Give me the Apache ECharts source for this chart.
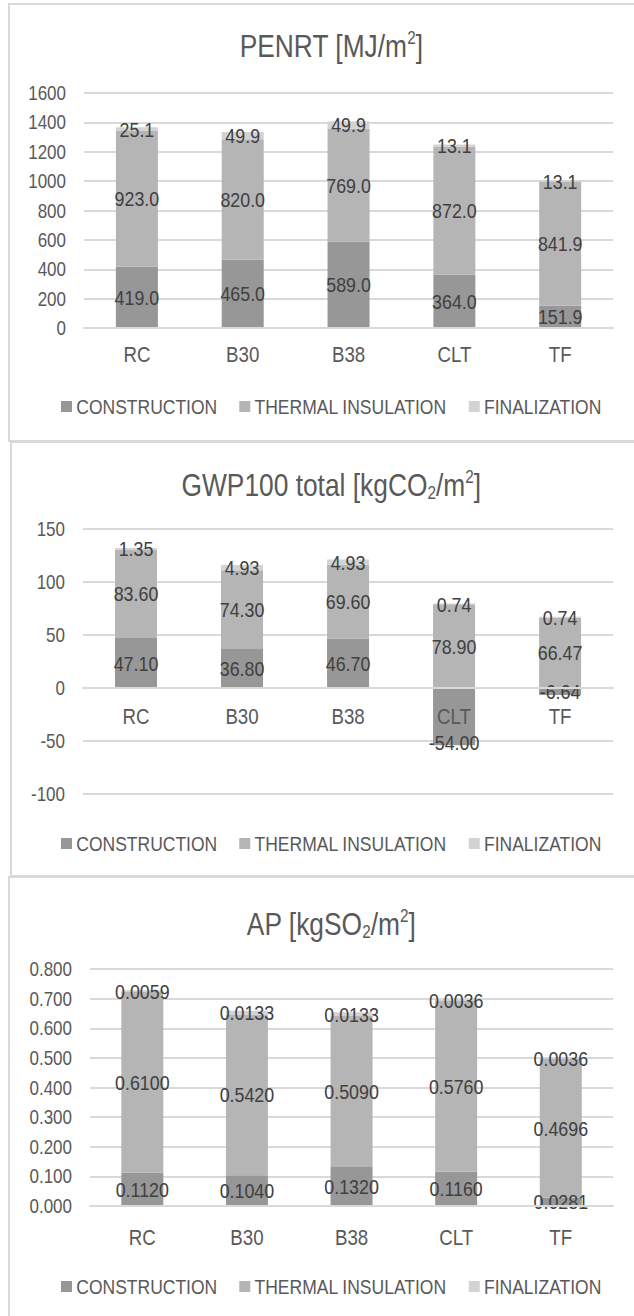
<!DOCTYPE html>
<html>
<head>
<meta charset="UTF-8">
<title>PENRT / GWP100 / AP</title>
<script src="https://cdn.jsdelivr.net/npm/echarts@6/dist/echarts.min.js"></script>
<style>
    body { margin: 0; background: #fff; width: 634px; height: 1316px; overflow: hidden; position: relative; }
    .frame { position: absolute; border: 2px solid #d9d9d9; box-sizing: border-box; }
    /* the original uses a narrow font: draw wide, then squeeze horizontally */
    .chart { position: absolute; left: 0; width: 746px; transform: scaleX(0.85); transform-origin: 0 0; }
</style>
</head>
<body>
<div class="frame" style="left:8px;top:3px;width:640px;height:439px"></div>
<div class="frame" style="left:10px;top:441px;width:640px;height:436px"></div>
<div class="frame" style="left:8px;top:876px;width:640px;height:460px"></div>
<div class="chart" id="c1" style="top:0;height:441px"></div>
<div class="chart" id="c2" style="top:441px;height:437px"></div>
<div class="chart" id="c3" style="top:878px;height:438px"></div>

<script>
    const categories = ["RC", "B30", "B38", "CLT", "TF"];
    const seriesNames = ["CONSTRUCTION", "THERMAL INSULATION", "FINALIZATION"];

    // PENRT [MJ/m2]
    const penrtConstruction = [419.0, 465.0, 589.0, 364.0, 151.9];
    const penrtInsulation = [923.0, 820.0, 769.0, 872.0, 841.9];
    const penrtFinalization = [25.1, 49.9, 49.9, 13.1, 13.1];

    // GWP100 total [kgCO2/m2]
    const gwpConstruction = [47.10, 36.80, 46.70, -54.00, -6.64];
    const gwpInsulation = [83.60, 74.30, 69.60, 78.90, 66.47];
    const gwpFinalization = [1.35, 4.93, 4.93, 0.74, 0.74];

    // AP [kgSO2/m2]
    const apConstruction = [0.1120, 0.1040, 0.1320, 0.1160, 0.0281];
    const apInsulation = [0.6100, 0.5420, 0.5090, 0.5760, 0.4696];
    const apFinalization = [0.0059, 0.0133, 0.0133, 0.0036, 0.0036];

    const FONT = "'Liberation Sans', Arial, sans-serif";
    const COLORS = ["#979797", "#b5b5b5", "#d3d3d3"];
    const TEXT = "#595959";
    const SX = 0.85; // horizontal squeeze of the chart boxes
    const px = v => v / SX; // page x size -> chart box x size

    function barSeries(name, data, color, digits) {
        return {
            name: name,
            type: "bar",
            stack: "total",
            barWidth: px(42),
            data: data,
            itemStyle: { color: color },
            label: {
                show: true,
                position: "inside",
                color: "#404040",
                fontFamily: FONT,
                fontSize: 21,
                textBorderWidth: 0,
                formatter: p => Number(p.value).toFixed(digits)
            }
        };
    }

    function makeChart(id, cfg) {
        const chart = echarts.init(document.getElementById(id), null, { renderer: "svg" });
        // category axis sits on the zero line (as in Excel)
        const zeroOffset = -cfg.gridHeight * (0 - cfg.min) / (cfg.max - cfg.min);
        chart.setOption({
            animation: false,
            textStyle: { fontFamily: FONT },
            title: {
                text: cfg.title,
                left: px(327),
                textAlign: "center",
                top: cfg.titleTop,
                textStyle: {
                    fontFamily: FONT, fontSize: 31, fontWeight: "normal", color: TEXT,
                    lineHeight: 34,
                    rich: {
                        sup: { fontFamily: FONT, fontSize: 18, color: TEXT, verticalAlign: "top", lineHeight: 20 },
                        sub: { fontFamily: FONT, fontSize: 18, color: TEXT, verticalAlign: "bottom", lineHeight: 18 }
                    }
                }
            },
            legend: {
                data: seriesNames,
                left: px(61),
                top: cfg.legendTop + 5,
                padding: 0,
                itemWidth: px(11),
                itemHeight: 11,
                itemGap: px(22),
                icon: "rect",
                textStyle: { fontFamily: FONT, fontSize: 20.6, color: TEXT }
            },
            grid: { left: px(cfg.gridLeft), right: px(21), top: cfg.gridTop, height: cfg.gridHeight, containLabel: false },
            xAxis: {
                type: "category",
                data: categories,
                z: 5,
                offset: zeroOffset,
                axisLine: { show: true, onZero: false, lineStyle: { color: "#d9d9d9", width: 2 } },
                axisTick: { show: false },
                axisLabel: { fontFamily: FONT, fontSize: 22, color: TEXT, margin: cfg.catMargin }
            },
            yAxis: {
                type: "value",
                min: cfg.min,
                max: cfg.max,
                interval: cfg.interval,
                axisLine: { show: false },
                axisTick: { show: false },
                splitLine: { lineStyle: { color: "#d9d9d9", width: 2 } },
                axisLabel: {
                    fontFamily: FONT, fontSize: 20, color: TEXT, margin: px(18),
                    formatter: v => v.toFixed(cfg.axisDigits)
                }
            },
            series: cfg.series
        });
    }

    makeChart("c1", {
        title: "PENRT [MJ/m{sup|2}]",
        titleTop: 24,
        legendTop: 391,
        gridLeft: 84, gridTop: 93, gridHeight: 235,
        catMargin: 15,
        min: 0, max: 1600, interval: 200, axisDigits: 0,
        series: [
            barSeries(seriesNames[0], penrtConstruction, COLORS[0], 1),
            barSeries(seriesNames[1], penrtInsulation, COLORS[1], 1),
            barSeries(seriesNames[2], penrtFinalization, COLORS[2], 1)
        ]
    });

    // the CLT construction label sits at the bar's lower end in the original
    const gwpConstructionData = gwpConstruction.map((v, i) =>
        categories[i] === "CLT" ? { value: v, label: { offset: [0, 26] } } : v);

    makeChart("c2", {
        title: "GWP100 total [kgCO{sub|2}/m{sup|2}]",
        titleTop: 22,
        legendTop: 387,
        gridLeft: 83, gridTop: 88, gridHeight: 265,
        catMargin: 17,
        min: -100, max: 150, interval: 50, axisDigits: 0,
        series: [
            barSeries(seriesNames[0], gwpConstructionData, COLORS[0], 2),
            barSeries(seriesNames[1], gwpInsulation, COLORS[1], 2),
            barSeries(seriesNames[2], gwpFinalization, COLORS[2], 2)
        ]
    });

    makeChart("c3", {
        title: "AP [kgSO{sub|2}/m{sup|2}]",
        titleTop: 24,
        legendTop: 393,
        gridLeft: 90, gridTop: 91, gridHeight: 237,
        catMargin: 20,
        min: 0, max: 0.8, interval: 0.1, axisDigits: 3,
        series: [
            barSeries(seriesNames[0], apConstruction, COLORS[0], 4),
            barSeries(seriesNames[1], apInsulation, COLORS[1], 4),
            barSeries(seriesNames[2], apFinalization, COLORS[2], 4)
        ]
    });
</script>
</body>
</html>
